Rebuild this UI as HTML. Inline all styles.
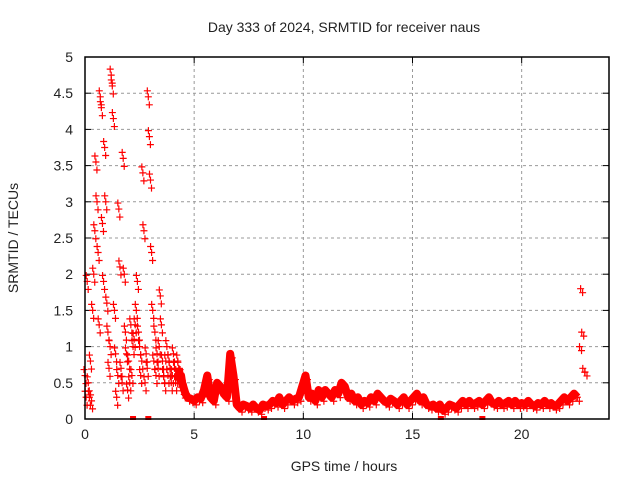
<!DOCTYPE html>
<html><head><meta charset="utf-8"><style>
body{margin:0;background:#fff;}
svg text{font-family:"Liberation Sans",sans-serif;font-size:14px;fill:#222;}
</style></head><body>
<svg id="c" width="640" height="480"></svg>
<script>
const xTicks=[0,5,10,15,20];
const yTicks=[0,0.5,1,1.5,2,2.5,3,3.5,4,4.5,5];
const yTickLabels=["0","0.5","1","1.5","2","2.5","3","3.5","4","4.5","5"];
const times=[0,0.05,0.1,0.15,0.2,0.25,0.3,0.35,0.4,0.45,0.5,0.55,0.6,0.65,0.7,0.75,0.8,0.85,0.9,0.95,1.0,1.05,1.1,1.15,1.2,1.25,1.3,1.35,1.4,1.45,1.5,1.55,1.6,1.65,1.7,1.75,1.8,1.85,1.9,1.95,2.0,2.05,2.1,2.15,2.2,2.25,2.3,2.35,2.4,2.45,2.5,2.55,2.6,2.65,2.7,2.75,2.8,2.85,2.9,2.95,3.0,3.05,3.1,3.15,3.2,3.25,3.3,3.35,3.4,3.45,3.5,3.55,3.6,3.65,3.7,3.75,3.8,3.85,3.9,3.95,4.0,4.05,4.1,4.15,4.2,4.25,4.3,4.35,4.4,4.45,4.5,4.55,4.6,
4.7,4.85,5.0,5.15,5.3,5.45,5.6,5.75,5.9,6.05,6.2,6.35,6.5,6.65,6.8,6.95,7.1,7.25,7.4,7.55,7.7,7.85,8.0,8.15,8.3,8.45,8.6,8.75,8.9,9.05,9.2,9.35,9.5,9.65,9.8,9.95,10.1,10.25,10.4,10.55,10.7,10.85,11.0,11.15,11.3,11.45,11.6,11.75,11.9,12.05,12.2,12.35,12.5,12.65,12.8,12.95,13.1,13.25,13.4,13.55,13.7,13.85,14.0,14.15,14.3,14.45,14.6,14.75,14.9,15.05,15.2,15.35,15.5,15.65,15.8,15.95,16.1,16.25,16.4,16.55,16.7,16.85,17.0,17.15,17.3,17.45,17.6,17.75,17.9,18.05,18.2,18.35,18.5,18.65,18.8,18.95,19.1,19.25,19.4,19.55,19.7,19.85,20.0,20.15,20.3,20.45,20.6,20.75,20.9,21.05,21.2,21.35,21.5,21.65,21.8,21.95,22.1,22.25,22.4,22.55,22.65,22.7,22.75,22.8,22.9];
const srmtid=[0.6,0.3,1.9,0.5,0.3,0.8,0.25,1.5,2.0,2.6,3.55,3.0,2.3,1.3,4.45,4.3,2.7,1.9,3.75,3.0,1.6,1.2,0.7,1.0,4.75,4.6,4.15,1.5,0.9,0.3,0.6,2.9,2.1,0.7,0.5,3.6,2.0,1.2,0.9,0.4,0.8,0.5,1.3,0.6,1.0,1.1,1.3,1.5,1.9,1.2,1.0,0.6,0.8,3.4,2.6,0.5,0.9,0.7,4.45,3.9,3.3,2.3,1.5,0.8,1.2,0.6,0.9,0.7,1.0,1.7,1.3,0.8,0.6,0.5,0.8,1.0,0.6,0.8,0.7,0.5,0.6,0.9,0.7,0.5,0.6,0.8,0.7,0.55,0.6,0.5,0.45,0.4,0.35,
0.3,0.28,0.25,0.3,0.28,0.4,0.6,0.3,0.25,0.5,0.45,0.35,0.3,0.9,0.6,0.2,0.15,0.2,0.18,0.15,0.2,0.15,0.12,0.2,0.18,0.2,0.25,0.22,0.3,0.2,0.25,0.3,0.25,0.28,0.3,0.45,0.6,0.3,0.35,0.25,0.4,0.3,0.4,0.35,0.3,0.4,0.35,0.5,0.45,0.3,0.35,0.25,0.3,0.2,0.25,0.22,0.3,0.25,0.35,0.3,0.25,0.22,0.28,0.25,0.2,0.25,0.3,0.2,0.25,0.3,0.35,0.25,0.3,0.2,0.18,0.2,0.15,0.2,0.12,0.15,0.2,0.18,0.15,0.2,0.25,0.2,0.25,0.2,0.22,0.25,0.2,0.25,0.3,0.22,0.2,0.25,0.2,0.22,0.25,0.2,0.25,0.2,0.22,0.2,0.25,0.2,0.18,0.22,0.2,0.25,0.2,0.22,0.18,0.2,0.25,0.3,0.25,0.3,0.35,0.3,1.0,1.8,1.2,0.7,0.65];
const zeroTimes=[2.2,2.9,8.2,16.3,18.2];

const NS="http://www.w3.org/2000/svg";
const svg=document.getElementById('c');
const L=85,R=609,T=57,B=419,XMAX=24,YMAX=5;
const sx=v=>L+v/XMAX*(R-L), sy=v=>B-v/YMAX*(B-T);
function mk(tag,attrs,parent){const e=document.createElementNS(NS,tag);for(const k in attrs)e.setAttribute(k,attrs[k]);(parent||svg).appendChild(e);return e;}
const grid=mk('g',{});


xTicks.forEach(t=>{if(t>0)mk('line',{x1:sx(t),x2:sx(t),y1:T,y2:B,stroke:'#999','stroke-dasharray':'3,3'},grid);
 mk('line',{x1:sx(t),x2:sx(t),y1:B,y2:B-6,stroke:'#000'},grid);mk('line',{x1:sx(t),x2:sx(t),y1:T,y2:T+6,stroke:'#000'},grid);
 const tx=mk('text',{x:sx(t),y:B+20,'text-anchor':'middle'});tx.textContent=t;
 
 });
yTicks.forEach((t,i)=>{if(t>0&&t<YMAX)mk('line',{x1:L,x2:R,y1:sy(t),y2:sy(t),stroke:'#999','stroke-dasharray':'3,3'},grid);
 mk('line',{x1:L,x2:L+6,y1:sy(t),y2:sy(t),stroke:'#000'},grid);mk('line',{x1:R,x2:R-6,y1:sy(t),y2:sy(t),stroke:'#000'},grid);
 const tx=mk('text',{x:L-12,y:sy(t)+5,'text-anchor':'end'});tx.textContent=yTickLabels[i];
 
 });
const series=mk('g',{stroke:'#f00',fill:'none'});


const tailIdx=times.map((t,i)=>i).filter(i=>times[i]>=4.3&&times[i]<=22.6);
mk('polyline',{points:tailIdx.map(i=>sx(times[i])+','+sy(srmtid[i])).join(' '),'stroke-width':8,'stroke-linejoin':'round'},series);
function plus(x,y){mk('path',{d:`M${x-3.5},${y}h7M${x},${y-3.5}v7`,'stroke-width':1.2},series);}
times.forEach((t,i)=>{const x=sx(t),y=sy(srmtid[i]);plus(x,y);
 if(t<4.6){plus(x+1,y+8);plus(x-1,y-6);}else{plus(x+2,y+4);}});
zeroTimes.forEach(t=>mk('rect',{x:sx(t)-3,y:B-3,width:6,height:4,fill:'#f00',stroke:'none'},series));
const fr=mk('rect',{x:L,y:T,width:R-L,height:B-T,fill:'none',stroke:'#000','stroke-width':1.5});


const ti=mk('text',{x:344,y:32,'text-anchor':'middle'});ti.textContent='Day 333 of 2024, SRMTID for receiver naus';


const xl=mk('text',{x:344,y:471,'text-anchor':'middle'});xl.textContent='GPS time / hours';


const yl=mk('text',{x:18,y:238,'text-anchor':'middle',transform:'rotate(-90 18 238)'});yl.textContent='SRMTID / TECUs';


</script>
</body></html>
